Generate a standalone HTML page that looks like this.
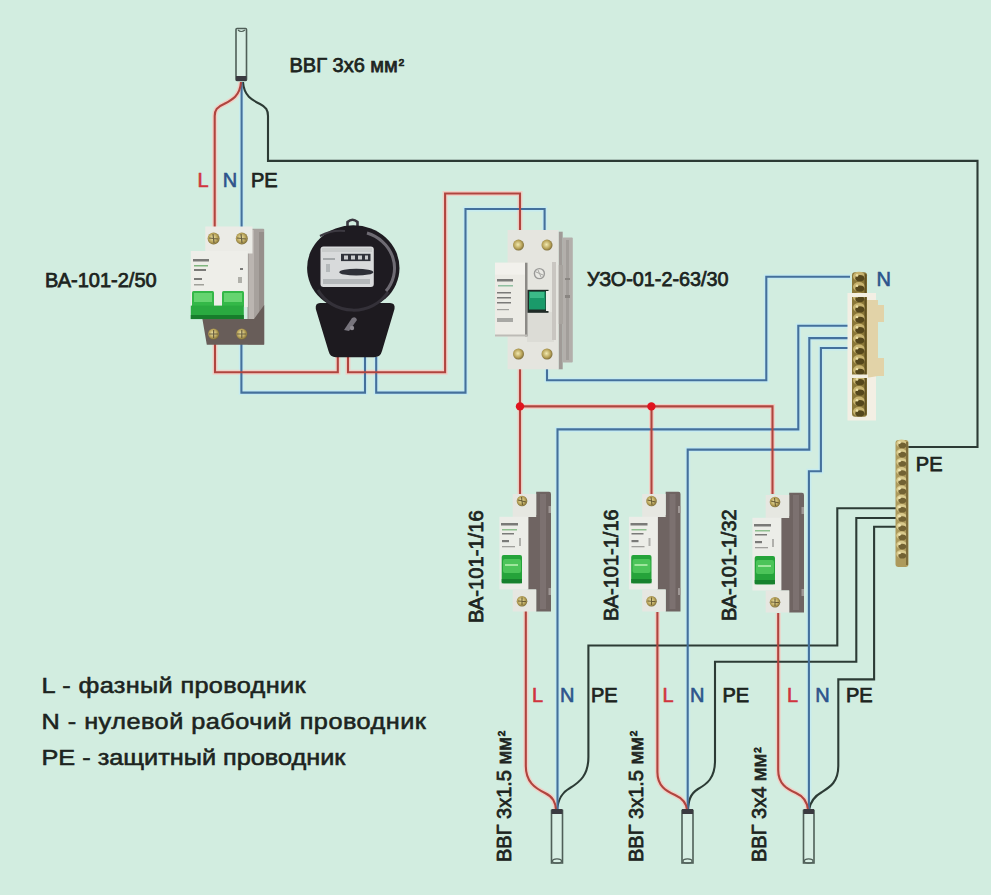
<!DOCTYPE html>
<html><head><meta charset="utf-8">
<style>
html,body{margin:0;padding:0;background:#d2ede0;}
body{width:991px;height:895px;overflow:hidden;position:relative;}
svg{position:absolute;left:0;top:0;}
text{font-family:"Liberation Sans",sans-serif;}
.lb{font-size:20px;fill:#1c2420;stroke:#1c2420;stroke-width:0.75px;}
.r{fill:#d0343e;stroke:#d0343e;stroke-width:0.6px;}
.b{fill:#2d548c;stroke:#2d548c;stroke-width:0.6px;}
.lg{font-size:22px;fill:#1c2420;stroke:#1c2420;stroke-width:0.55px;}
</style></head>
<body>
<svg width="991" height="895" viewBox="0 0 991 895">
<defs>
  <linearGradient id="brass" x1="0" x2="1">
    <stop offset="0" stop-color="#d9c98a"/><stop offset="0.5" stop-color="#8d7a3a"/><stop offset="1" stop-color="#c9b66e"/>
  </linearGradient>
  <radialGradient id="screw" cx="0.45" cy="0.45" r="0.6">
    <stop offset="0" stop-color="#f2eab0"/><stop offset="0.6" stop-color="#b9a45a"/><stop offset="1" stop-color="#6f6030"/>
  </radialGradient>
  <linearGradient id="grn" x1="0" y1="0" x2="0" y2="1">
    <stop offset="0" stop-color="#6ad46a"/><stop offset="0.5" stop-color="#1fa83a"/><stop offset="1" stop-color="#0f7a25"/>
  </linearGradient>
  <pattern id="brassp" width="15" height="11" patternUnits="userSpaceOnUse">
    <rect width="15" height="11" fill="#8a7840"/>
    <circle cx="7.5" cy="5.5" r="5" fill="#cdbb73"/>
    <circle cx="7" cy="5" r="2.8" fill="#5d5026"/>
    <circle cx="5.5" cy="3.8" r="1.2" fill="#efe3a6"/>
  </pattern>
</defs>

<defs>
<g id="wk">
  <path d="M243,82 C244,96 252,100 260,104 C266,107 268,110 268,116 L268,160.9 L977.5,160.9 L977.5,447 L906,447"/>
  <path d="M897,508.3 L837.3,508.3 L837.3,645.5 L588.4,645.5 L588.4,757 C588.4,775 580,782 570,788 C561,793 558,800 557,810"/>
  <path d="M897,518 L856.3,518 L856.3,661.7 L715,661.7 L715,761 C715,778 707,784 698,789 C690,794 688.5,801 688,810"/>
  <path d="M897,526.7 L874.1,526.7 L874.1,679.4 L838.3,679.4 L838.3,766 C838.3,782 830,787 822,792 C813,797 810,803 809,810"/>
</g>
<g id="wb">
  <path d="M241.6,82 L241.6,227"/>
  <path d="M241.4,344 L241.4,392.6 L365,392.6 L365,357"/>
  <path d="M376.2,357 L376.2,392.6 L465.5,392.6 L465.5,209 L544.6,209 L544.6,231"/>
  <path d="M547,369 L547,380.2 L766.3,380.2 L766.3,276.7 L850,276.7"/>
  <path d="M850,325.8 L798.3,325.8 L798.3,429.4 L557.5,429.4 L557.5,810"/>
  <path d="M850,338.1 L809.3,338.1 L809.3,449.6 L687.7,449.6 L687.7,810"/>
  <path d="M850,348 L820.9,348 L820.9,471.3 L808.9,471.3 L808.9,810"/>
</g>
<g id="wr">
  <path d="M241,82 C240,96 232,100 224,104 C217,107 214.7,110 214.7,116 L214.7,227"/>
  <path d="M215,344 L215,372.3 L337.8,372.3 L337.8,357"/>
  <path d="M348,357 L348,372.3 L445.1,372.3 L445.1,193.5 L520,193.5 L520,231"/>
  <path d="M520,369 L520,494"/>
  <path d="M520,406.4 L772.5,406.4 L772.5,494"/>
  <path d="M651.5,406.4 L651.5,494"/>
  <path d="M525.8,611 L525.8,766 C525.8,782 535,788 545,793 C553,797 555.5,802 556,810"/>
  <path d="M657.4,612 L657.4,772 C657.4,786 666,791 675,795 C684,799 686.5,804 687,810"/>
  <path d="M778.2,613 L778.2,770 C778.2,784 787,789 796,793 C805,797 807.5,803 808,810"/>
</g>
</defs>
<g fill="none" stroke-linejoin="miter">
<use href="#wb" stroke="#c6ebf0" stroke-width="5"/>
<use href="#wr" stroke="#f0d0c6" stroke-width="5"/>
<use href="#wk" stroke="#2c3b35" stroke-width="2.1"/>
<use href="#wb" stroke="#44709c" stroke-width="2.1"/>
<use href="#wr" stroke="#b0443e" stroke-width="2.1"/>
</g>
<circle cx="520" cy="406.4" r="4.2" fill="#e0141e"/>
<circle cx="651.4" cy="406.4" r="4.2" fill="#e0141e"/>

<!-- Cables -->
<g stroke="#4f5f58" stroke-width="1.6" fill="#d8efe4">
  <rect x="236" y="28.5" width="10.5" height="52" rx="1"/>
  <rect x="551.5" y="810.5" width="11" height="52.5"/>
  <rect x="682" y="810.5" width="11" height="52.5"/>
  <rect x="803.5" y="810.5" width="10.5" height="52.5"/>
</g>
<g fill="none" stroke="#4f5f58" stroke-width="1.2">
  <ellipse cx="557" cy="861" rx="4.5" ry="2.2"/><ellipse cx="687.5" cy="861" rx="4.5" ry="2.2"/><ellipse cx="808.7" cy="861" rx="4.3" ry="2.2"/>
  <path d="M238,30 Q241,33 245,30"/>
</g>
<g fill="#3a3a40">
  <rect x="236" y="76" width="10.5" height="5"/>
  <rect x="551.5" y="809" width="11" height="5"/>
  <rect x="682" y="809" width="11" height="5"/>
  <rect x="803.5" y="809" width="10.5" height="5"/>
</g>

<!-- ===== 2-pole breaker ===== -->
<g id="qf2">
  <rect x="247.4" y="228.7" width="16.8" height="116" rx="1" fill="#a7a19d"/>
  <rect x="249" y="230" width="5" height="112" fill="#bbb5b1"/>
  <rect x="259" y="232" width="5" height="110" fill="#968f8b"/>
  <rect x="205.3" y="226.5" width="47.2" height="27" fill="#ebebe6"/>
  <rect x="190.8" y="251" width="57" height="56" fill="#eeeee9"/>
  <path d="M202.4,319 L254,319 L264.2,305 L264.2,344.8 L206.8,344.8 Z" fill="#685d59"/>
  <rect x="192" y="291" width="22" height="16" rx="1.5" fill="#34b848"/>
  <rect x="222" y="291" width="22" height="16" rx="1.5" fill="#34b848"/>
  <rect x="194" y="293" width="18" height="9" fill="#66d470"/>
  <rect x="224" y="293" width="18" height="9" fill="#66d470"/>
  <rect x="190.8" y="305.6" width="53" height="13.5" fill="#2aaa40"/>
  <rect x="190.8" y="315" width="53" height="4" fill="#177d2b"/>
  <g fill="url(#screw)">
    <circle cx="213.6" cy="238.5" r="6"/><circle cx="241.8" cy="238.5" r="6"/>
    <circle cx="213.6" cy="334" r="5.5"/><circle cx="241.8" cy="334" r="5.5"/>
  </g>
  <g stroke="#6b6040" stroke-width="1.2"><path d="M209,238 L218,239 M213,234 L214,243 M237,238 L246,239 M241,234 L242,243"/><path d="M209,334 L218,334 M213.6,330 L213.6,338 M237,334 L246,334 M241.8,330 L241.8,338"/></g>
  <g fill="#7a7a78">
    <rect x="193" y="259" width="16" height="2.5"/>
    <rect x="194" y="265" width="14" height="1.5" fill="#7fb67f"/>
    <rect x="194" y="269" width="12" height="2"/>
    <rect x="194" y="278" width="8" height="2"/>
    <rect x="194" y="284" width="10" height="1.5" fill="#a0a09a"/>
    <rect x="240" y="268" width="3" height="2"/>
    <rect x="238" y="277" width="4" height="6" fill="#b0b0aa"/>
  </g>
</g>

<!-- ===== Meter ===== -->
<g id="meter">
  <path d="M347.5,226 L347.5,222 Q352.5,217.5 357.5,222 L357.5,226" fill="none" stroke="#3a3740" stroke-width="2.6"/>
  <path d="M320,303 L390,303 Q395.5,303 394.5,309 L382,351 Q380.5,357.2 374,357.2 L336,357.2 Q330,357.2 328.5,351 L315.8,309 Q315,303 320,303 Z" fill="#1d1a1f"/>
  <ellipse cx="353.3" cy="268" rx="46.2" ry="42.8" fill="#1e1b21"/>
  <path d="M318,290 A40,37 0 0 0 388,292" fill="none" stroke="#343139" stroke-width="3"/>
  <path d="M367,233 A40,37 0 0 1 386,291" fill="none" stroke="#6e6b73" stroke-width="3"/>
  <path d="M320,236 A40,37 0 0 1 345,231" fill="none" stroke="#3c3941" stroke-width="2"/>
  <rect x="320.5" y="246.6" width="53.3" height="40.5" rx="3" fill="#d8dadb"/>
  <rect x="322" y="248" width="50" height="4" fill="#c8cbcb"/>
  <rect x="341" y="253.8" width="29.5" height="7.3" fill="#30323a"/>
  <g fill="#c8cacc"><rect x="344" y="255.5" width="4" height="4"/><rect x="351" y="255.5" width="4" height="4"/><rect x="358" y="255.5" width="4" height="4"/><rect x="365" y="255.5" width="3" height="4"/></g>
  <ellipse cx="356.3" cy="272.2" rx="17" ry="3.4" fill="#2e3038"/>
  <rect x="323" y="279" width="47" height="5" fill="#b4b8ba"/>
  <rect x="323" y="258" width="12" height="2" fill="#a4a8aa"/>
  <rect x="326" y="264" width="4" height="8" fill="#b4b8ba"/>
  <path d="M344,330 L352,318 Q356,316 357,320 L349,331 Z" fill="#77747c"/>
  <circle cx="352" cy="328" r="2.2" fill="#8e8b92"/>
</g>

<!-- ===== RCD ===== -->
<g id="rcd">
  <rect x="558.5" y="231.7" width="4.2" height="137.6" fill="#a09b97"/>
  <rect x="562.6" y="237.6" width="10.2" height="125" rx="1" fill="#b3afab"/>
  <rect x="566" y="240" width="3" height="120" fill="#a29e9a"/>
  <rect x="554" y="265" width="9" height="59" fill="#a8a49f"/>
  <rect x="507.6" y="230" width="51" height="139.3" fill="#e5e5df"/>
  <rect x="527" y="312" width="27" height="30" fill="#dcdcd6"/>
  <rect x="552" y="262" width="4" height="78" fill="#c9c6c1"/>
  <rect x="495" y="262.7" width="32" height="73.8" fill="#ecebe5"/>
  <rect x="525" y="262.7" width="2.5" height="73.8" fill="#8c8a86"/>
  <rect x="495" y="334.5" width="32" height="2" fill="#bdbbb6"/>
  <rect x="495" y="262.7" width="30" height="12" fill="#f2f1ec"/>
  <rect x="527.5" y="289.8" width="21" height="23" fill="#1f2a26"/>
  <rect x="529" y="291.5" width="16.5" height="18" fill="#1a9a6a"/>
  <rect x="530" y="292" width="14" height="6" fill="#3bba88"/>
  <rect x="546" y="291" width="4" height="20" fill="#eeeeea"/>
  <circle cx="539.4" cy="273.6" r="5" fill="#e9e9e4" stroke="#9a9a98" stroke-width="1.4"/>
  <path d="M536,272 L543,275 M538,270 L541,277" stroke="#a6a6a2" stroke-width="1"/>
  <g fill="url(#screw)">
    <circle cx="518.5" cy="245.1" r="5.5"/><circle cx="547" cy="245.1" r="5.5"/>
    <circle cx="518.5" cy="354" r="5.5"/><circle cx="547" cy="354" r="5.5"/>
  </g>
  <g fill="#7a7a78">
    <rect x="497" y="279" width="16" height="2.5"/>
    <rect x="498" y="285" width="15" height="1.5" fill="#8fbfa0"/>
    <rect x="497" y="292" width="14" height="1.5"/>
    <rect x="497" y="297" width="14" height="1.5"/>
    <rect x="497" y="302" width="14" height="1.5"/>
    <rect x="497" y="309" width="12" height="1.2" fill="#a0a09c"/>
    <rect x="497" y="318" width="16" height="4" fill="#a8a8a4"/>
    <rect x="565" y="278" width="5" height="2" fill="#8a8682"/>
    <rect x="565" y="295" width="5" height="3" fill="#8a8682"/>
  </g>
</g>

<!-- ===== single-pole breakers ===== -->
<g id="qf1">
  <path d="M536.2,491.7 L549,491.7 Q551,491.7 551,494 L551,611.5 L536.2,611.5 L536.2,589.5 L527.6,589.5 L527.6,515 L536.2,515 Z" fill="#6f6462"/>
  <rect x="540" y="494" width="6" height="115" fill="#7c7170"/>
  <rect x="548.5" y="506" width="2.5" height="7" fill="#a09896"/>
  <rect x="548.5" y="588" width="2.5" height="7" fill="#a09896"/>
  <rect x="512.7" y="494" width="23.5" height="23" fill="#e6e7e1"/>
  <rect x="499.4" y="516.8" width="29" height="72.7" fill="#ecede8"/>
  <rect x="512.7" y="589.5" width="23.5" height="22" fill="#e6e7e1"/>
  <rect x="501.7" y="555" width="20.3" height="28.3" rx="2" fill="#25a33a"/>
  <rect x="503" y="559" width="18" height="14" rx="2" fill="#4cc459"/>
  <rect x="505" y="564" width="13" height="2" fill="#9ee69c"/>
  <rect x="501.7" y="579" width="20.3" height="4.3" fill="#18812e"/>
  <g fill="url(#screw)"><circle cx="522" cy="501" r="5.3"/><circle cx="522" cy="601.3" r="5.3"/></g>
  <g stroke="#6b5e36" stroke-width="1.1"><path d="M518,500 L526,502 M521.5,497 L522.5,505 M518,601 L526,601.5 M522,597.5 L522,605"/></g>
  <g fill="#7a7a78">
    <rect x="501" y="523" width="17" height="2.5"/>
    <rect x="502" y="529" width="15" height="1.5" fill="#8fc08f"/>
    <rect x="502" y="533" width="12" height="1.5"/>
    <rect x="502" y="540" width="7" height="2.2"/>
    <rect x="502" y="546" width="13" height="1.3" fill="#a0a09c"/>
    <rect x="519" y="538" width="2" height="8" fill="#b0b0ac"/>
  </g>
</g>
<use href="#qf1" x="129.5" y="0"/>
<use href="#qf1" x="253" y="1"/>

<!-- ===== N bus ===== -->
<g id="nbus">
  <rect x="847.5" y="293" width="28.5" height="127.5" fill="#f3efe4"/>
  <path d="M866,300 L878,300 L878,305 L884,305 L884,322 L878,322 L878,358 L884,358 L884,376 L878,376 L866,378 Z" fill="#e2d3a8"/>
<rect x="852.0" y="272.2" width="15.0" height="144.6" rx="3" fill="#8a7738"/>
<ellipse cx="859.0" cy="276.4" rx="6.0" ry="4.7" fill="#c7b36f"/>
<ellipse cx="859.8" cy="278.2" rx="4.5" ry="3.1" fill="#55471c"/>
<circle cx="857.0" cy="275.4" r="1.3" fill="#ebdfa4"/>
<ellipse cx="859.0" cy="286.8" rx="6.0" ry="4.7" fill="#c7b36f"/>
<ellipse cx="859.8" cy="288.6" rx="4.5" ry="3.1" fill="#55471c"/>
<circle cx="857.0" cy="285.8" r="1.3" fill="#ebdfa4"/>
<ellipse cx="859.0" cy="297.2" rx="6.0" ry="4.7" fill="#c7b36f"/>
<ellipse cx="859.8" cy="299.0" rx="4.5" ry="3.1" fill="#55471c"/>
<circle cx="857.0" cy="296.2" r="1.3" fill="#ebdfa4"/>
<ellipse cx="859.0" cy="307.6" rx="6.0" ry="4.7" fill="#c7b36f"/>
<ellipse cx="859.8" cy="309.4" rx="4.5" ry="3.1" fill="#55471c"/>
<circle cx="857.0" cy="306.6" r="1.3" fill="#ebdfa4"/>
<ellipse cx="859.0" cy="318.0" rx="6.0" ry="4.7" fill="#c7b36f"/>
<ellipse cx="859.8" cy="319.8" rx="4.5" ry="3.1" fill="#55471c"/>
<circle cx="857.0" cy="317.0" r="1.3" fill="#ebdfa4"/>
<ellipse cx="859.0" cy="328.4" rx="6.0" ry="4.7" fill="#c7b36f"/>
<ellipse cx="859.8" cy="330.2" rx="4.5" ry="3.1" fill="#55471c"/>
<circle cx="857.0" cy="327.4" r="1.3" fill="#ebdfa4"/>
<ellipse cx="859.0" cy="338.8" rx="6.0" ry="4.7" fill="#c7b36f"/>
<ellipse cx="859.8" cy="340.6" rx="4.5" ry="3.1" fill="#55471c"/>
<circle cx="857.0" cy="337.8" r="1.3" fill="#ebdfa4"/>
<ellipse cx="859.0" cy="349.2" rx="6.0" ry="4.7" fill="#c7b36f"/>
<ellipse cx="859.8" cy="351.0" rx="4.5" ry="3.1" fill="#55471c"/>
<circle cx="857.0" cy="348.2" r="1.3" fill="#ebdfa4"/>
<ellipse cx="859.0" cy="359.6" rx="6.0" ry="4.7" fill="#c7b36f"/>
<ellipse cx="859.8" cy="361.4" rx="4.5" ry="3.1" fill="#55471c"/>
<circle cx="857.0" cy="358.6" r="1.3" fill="#ebdfa4"/>
<ellipse cx="859.0" cy="370.0" rx="6.0" ry="4.7" fill="#c7b36f"/>
<ellipse cx="859.8" cy="371.8" rx="4.5" ry="3.1" fill="#55471c"/>
<circle cx="857.0" cy="369.0" r="1.3" fill="#ebdfa4"/>
<ellipse cx="859.0" cy="380.4" rx="6.0" ry="4.7" fill="#c7b36f"/>
<ellipse cx="859.8" cy="382.2" rx="4.5" ry="3.1" fill="#55471c"/>
<circle cx="857.0" cy="379.4" r="1.3" fill="#ebdfa4"/>
<ellipse cx="859.0" cy="390.8" rx="6.0" ry="4.7" fill="#c7b36f"/>
<ellipse cx="859.8" cy="392.6" rx="4.5" ry="3.1" fill="#55471c"/>
<circle cx="857.0" cy="389.8" r="1.3" fill="#ebdfa4"/>
<ellipse cx="859.0" cy="401.2" rx="6.0" ry="4.7" fill="#c7b36f"/>
<ellipse cx="859.8" cy="403.0" rx="4.5" ry="3.1" fill="#55471c"/>
<circle cx="857.0" cy="400.2" r="1.3" fill="#ebdfa4"/>
<ellipse cx="859.0" cy="411.6" rx="6.0" ry="4.7" fill="#c7b36f"/>
<ellipse cx="859.8" cy="413.4" rx="4.5" ry="3.1" fill="#55471c"/>
<circle cx="857.0" cy="410.6" r="1.3" fill="#ebdfa4"/>
<rect x="864.5" y="274.2" width="2" height="140.6" fill="#55471c" opacity="0.8"/>
<rect x="851.0" y="293.0" width="17.0" height="4.0" fill="#f3efe2"/>
<rect x="851.0" y="374.5" width="17.0" height="3.5" fill="#f3efe2"/>
</g>
<!-- ===== PE bus ===== -->
<g id="pebus">
<rect x="895.5" y="440.0" width="13.0" height="127.0" rx="3" fill="#ad9a5c"/>
<ellipse cx="901.5" cy="443.6" rx="5.2" ry="4.1" fill="#d8c98c"/>
<ellipse cx="902.3" cy="445.4" rx="3.9" ry="2.8" fill="#726233"/>
<circle cx="899.5" cy="442.6" r="1.3" fill="#f0e6b4"/>
<ellipse cx="901.5" cy="452.8" rx="5.2" ry="4.1" fill="#d8c98c"/>
<ellipse cx="902.3" cy="454.6" rx="3.9" ry="2.8" fill="#726233"/>
<circle cx="899.5" cy="451.8" r="1.3" fill="#f0e6b4"/>
<ellipse cx="901.5" cy="462.0" rx="5.2" ry="4.1" fill="#d8c98c"/>
<ellipse cx="902.3" cy="463.8" rx="3.9" ry="2.8" fill="#726233"/>
<circle cx="899.5" cy="461.0" r="1.3" fill="#f0e6b4"/>
<ellipse cx="901.5" cy="471.2" rx="5.2" ry="4.1" fill="#d8c98c"/>
<ellipse cx="902.3" cy="473.0" rx="3.9" ry="2.8" fill="#726233"/>
<circle cx="899.5" cy="470.2" r="1.3" fill="#f0e6b4"/>
<ellipse cx="901.5" cy="480.4" rx="5.2" ry="4.1" fill="#d8c98c"/>
<ellipse cx="902.3" cy="482.2" rx="3.9" ry="2.8" fill="#726233"/>
<circle cx="899.5" cy="479.4" r="1.3" fill="#f0e6b4"/>
<ellipse cx="901.5" cy="489.6" rx="5.2" ry="4.1" fill="#d8c98c"/>
<ellipse cx="902.3" cy="491.4" rx="3.9" ry="2.8" fill="#726233"/>
<circle cx="899.5" cy="488.6" r="1.3" fill="#f0e6b4"/>
<ellipse cx="901.5" cy="498.8" rx="5.2" ry="4.1" fill="#d8c98c"/>
<ellipse cx="902.3" cy="500.6" rx="3.9" ry="2.8" fill="#726233"/>
<circle cx="899.5" cy="497.8" r="1.3" fill="#f0e6b4"/>
<ellipse cx="901.5" cy="508.0" rx="5.2" ry="4.1" fill="#d8c98c"/>
<ellipse cx="902.3" cy="509.8" rx="3.9" ry="2.8" fill="#726233"/>
<circle cx="899.5" cy="507.0" r="1.3" fill="#f0e6b4"/>
<ellipse cx="901.5" cy="517.2" rx="5.2" ry="4.1" fill="#d8c98c"/>
<ellipse cx="902.3" cy="519.0" rx="3.9" ry="2.8" fill="#726233"/>
<circle cx="899.5" cy="516.2" r="1.3" fill="#f0e6b4"/>
<ellipse cx="901.5" cy="526.4" rx="5.2" ry="4.1" fill="#d8c98c"/>
<ellipse cx="902.3" cy="528.2" rx="3.9" ry="2.8" fill="#726233"/>
<circle cx="899.5" cy="525.4" r="1.3" fill="#f0e6b4"/>
<ellipse cx="901.5" cy="535.6" rx="5.2" ry="4.1" fill="#d8c98c"/>
<ellipse cx="902.3" cy="537.4" rx="3.9" ry="2.8" fill="#726233"/>
<circle cx="899.5" cy="534.6" r="1.3" fill="#f0e6b4"/>
<ellipse cx="901.5" cy="544.8" rx="5.2" ry="4.1" fill="#d8c98c"/>
<ellipse cx="902.3" cy="546.6" rx="3.9" ry="2.8" fill="#726233"/>
<circle cx="899.5" cy="543.8" r="1.3" fill="#f0e6b4"/>
<ellipse cx="901.5" cy="554.0" rx="5.2" ry="4.1" fill="#d8c98c"/>
<ellipse cx="902.3" cy="555.8" rx="3.9" ry="2.8" fill="#726233"/>
<circle cx="899.5" cy="553.0" r="1.3" fill="#f0e6b4"/>
<rect x="906.0" y="442.0" width="2" height="123.0" fill="#726233" opacity="0.8"/>
</g>
<!-- TEXT -->
<text class="lb" x="289.5" y="71.5">ВВГ 3х6 мм<tspan style="font-size:16px" dx="0.8" dy="-1.5">²</tspan></text>
<text class="lb r" x="197.5" y="186.5">L</text>
<text class="lb b" x="222.8" y="186.5">N</text>
<text class="lb" x="251" y="186.5">PE</text>
<text class="lb" x="45" y="286.5">ВА-101-2/50</text>
<text class="lb" x="587" y="285.5" style="font-size:19.8px">УЗО-01-2-63/30</text>
<text class="lb b" x="876.5" y="285.5">N</text>
<text class="lb" x="915.8" y="471">PE</text>

<text class="lb" style="font-size:20.2px" transform="translate(482.8,623) rotate(-90)">ВА-101-1/16</text>
<text class="lb" transform="translate(618.3,621) rotate(-90)">ВА-101-1/16</text>
<text class="lb" transform="translate(735.5,621) rotate(-90)">ВА-101-1/32</text>

<text class="lb r" x="532" y="702">L</text>
<text class="lb b" x="560" y="702">N</text>
<text class="lb" x="591" y="702">PE</text>
<text class="lb r" x="662.5" y="702">L</text>
<text class="lb b" x="690" y="702">N</text>
<text class="lb" x="722.5" y="702">PE</text>
<text class="lb r" x="787" y="702">L</text>
<text class="lb b" x="815.2" y="702">N</text>
<text class="lb" x="846" y="702">PE</text>

<text class="lb" transform="translate(510.5,862) rotate(-90)">ВВГ 3х1.5 мм<tspan style="font-size:16px" dx="0.8" dy="-1.5">²</tspan></text>
<text class="lb" transform="translate(642.5,862) rotate(-90)">ВВГ 3х1.5 мм<tspan style="font-size:16px" dx="0.8" dy="-1.5">²</tspan></text>
<text class="lb" transform="translate(766,862) rotate(-90)">ВВГ 3х4 мм<tspan style="font-size:16px" dx="0.8" dy="-1.5">²</tspan></text>

<text class="lg" transform="translate(41.5,693) scale(1.15,1)" textLength="229.6" lengthAdjust="spacing">L - фазный проводник</text>
<text class="lg" transform="translate(41.5,729.3) scale(1.15,1)" textLength="334.3" lengthAdjust="spacing">N - нулевой рабочий проводник</text>
<text class="lg" transform="translate(41.5,765) scale(1.15,1)" textLength="264.2" lengthAdjust="spacing">PE - защитный проводник</text>

</svg>
</body></html>
